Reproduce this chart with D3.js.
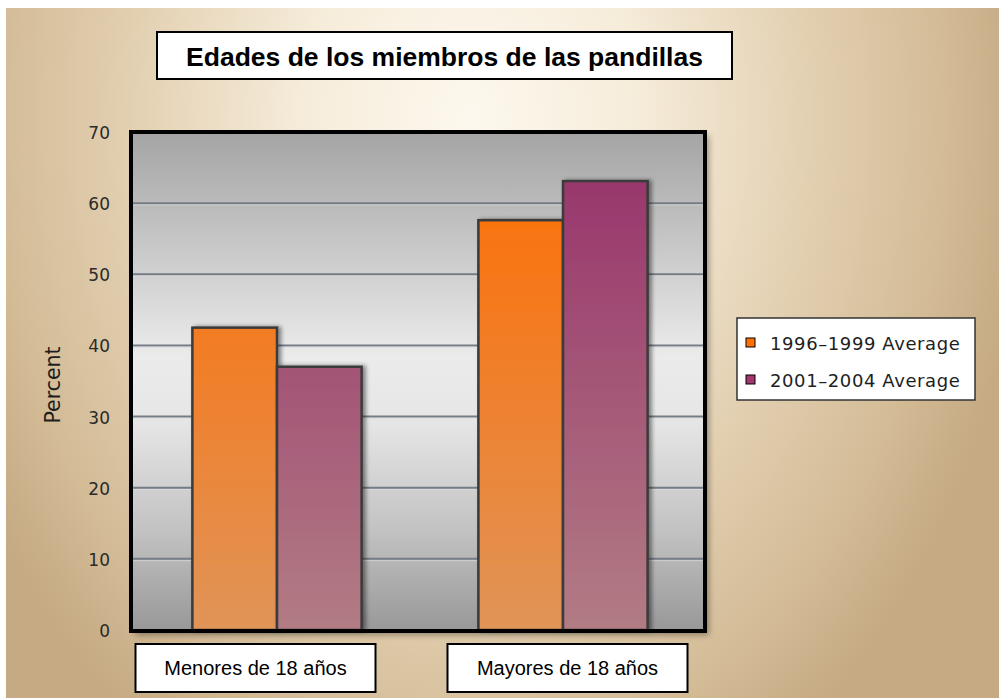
<!DOCTYPE html>
<html>
<head>
<meta charset="utf-8">
<script src="https://cdn.jsdelivr.net/npm/d3@7"></script>
<style>
  html, body { margin: 0; padding: 0; background: #ffffff; }
  svg { display: block; }
</style>
</head>
<body>
<svg id="chart" width="999" height="698"></svg>
<script>
// Chart data
const title = "Edades de los miembros de las pandillas";
const categories = ["Menores de 18 años", "Mayores de 18 años"];
const seriesNames = ["1996\u20131999 Average", "2001\u20132004 Average"];
const avg1996_1999 = [42.5, 57.6];
const avg2001_2004 = [37.0, 63.1];
const yTicks = [0, 10, 20, 30, 40, 50, 60, 70];
const yLabel = "Percent";

const svg = d3.select("#chart");
const W = 999, H = 698;
const defs = svg.append("defs");

// Warm radial background
const bg = defs.append("radialGradient")
  .attr("id", "bgGrad").attr("gradientUnits", "userSpaceOnUse")
  .attr("cx", 470).attr("cy", 120).attr("r", 560)
  .attr("gradientTransform", "translate(470,120) scale(1,1.35) translate(-470,-120)");
[[0, "#fdf8ee"], [0.3, "#f6ecda"], [0.62, "#e2cfb0"], [0.85, "#d3bb96"], [1, "#c5aa83"]]
  .forEach(([o, c]) => bg.append("stop").attr("offset", o).attr("stop-color", c));

svg.append("rect").attr("x", 6).attr("y", 8).attr("width", W - 6).attr("height", H - 8)
  .attr("fill", "url(#bgGrad)");

// Plot area geometry
const plot = { left: 131, right: 705, top: 132, bottom: 631 };

const x0 = d3.scaleBand().domain(categories).range([134, 706]).padding(0);
const x1 = d3.scaleBand().domain(seriesNames).range([0, x0.bandwidth()])
  .paddingInner(0).paddingOuter(0.69);
const y = d3.scaleLinear().domain([0, 70]).range([630, 132]);

// Plot background gradient
const pg = defs.append("linearGradient").attr("id", "plotGrad")
  .attr("x1", 0).attr("y1", 0).attr("x2", 0).attr("y2", 1);
[[0, "#a4a4a4"], [0.18, "#c0c0c0"], [0.45, "#ebebeb"], [0.58, "#e6e6e6"], [0.8, "#c2c2c2"], [1, "#989898"]]
  .forEach(([o, c]) => pg.append("stop").attr("offset", o).attr("stop-color", c));

// Bar gradients, spanning the plot height
function barGrad(id, top, bottom) {
  const g = defs.append("linearGradient").attr("id", id)
    .attr("gradientUnits", "userSpaceOnUse")
    .attr("x1", 0).attr("x2", 0).attr("y1", y(70)).attr("y2", y(0));
  g.append("stop").attr("offset", 0).attr("stop-color", top);
  g.append("stop").attr("offset", 1).attr("stop-color", bottom);
}
barGrad("orangeGrad", "#ff6c00", "#e09458");
barGrad("purpleGrad", "#96306a", "#b27c84");
const fills = ["url(#orangeGrad)", "url(#purpleGrad)"];
const legendFills = ["#ff7000", "#a3356f"];

// Shadows
const sh = defs.append("filter").attr("id", "shadow")
  .attr("x", "-10%").attr("y", "-10%").attr("width", "130%").attr("height", "130%");
sh.append("feDropShadow").attr("dx", 4).attr("dy", 4).attr("stdDeviation", 3)
  .attr("flood-color", "#000").attr("flood-opacity", 0.35);
const bsh = defs.append("filter").attr("id", "barShadow")
  .attr("x", "-20%").attr("y", "-10%").attr("width", "150%").attr("height", "130%");
bsh.append("feDropShadow").attr("dx", 3).attr("dy", 0).attr("stdDeviation", 2)
  .attr("flood-color", "#000").attr("flood-opacity", 0.45);

// Title box
svg.append("rect").attr("x", 157).attr("y", 32).attr("width", 575).attr("height", 47)
  .attr("fill", "#fff").attr("stroke", "#000").attr("stroke-width", 2);
svg.append("text").attr("x", 444.5).attr("y", 66)
  .attr("text-anchor", "middle")
  .attr("font-family", "Liberation Sans, Arial, sans-serif")
  .attr("font-weight", "bold").attr("font-size", 26.5).attr("fill", "#000")
  .text(title);

// Plot frame with background
svg.append("rect")
  .attr("x", plot.left).attr("y", plot.top)
  .attr("width", plot.right - plot.left).attr("height", plot.bottom - plot.top)
  .attr("fill", "url(#plotGrad)").attr("filter", "url(#shadow)");

// Gridlines
const grid = svg.append("g");
yTicks.filter(t => t > 0 && t < 70).forEach(t => {
  grid.append("line").attr("x1", plot.left).attr("x2", plot.right)
    .attr("y1", y(t)).attr("y2", y(t))
    .attr("stroke", "#747c86").attr("stroke-width", 2);
  grid.append("line").attr("x1", plot.left).attr("x2", plot.right)
    .attr("y1", y(t) + 1.8).attr("y2", y(t) + 1.8)
    .attr("stroke", "#dcdcdc").attr("stroke-width", 1).attr("opacity", 0.7);
});

// Bars
const series = [avg1996_1999, avg2001_2004];
const groups = svg.append("g").selectAll("g").data(categories).join("g")
  .attr("transform", d => `translate(${x0(d)},0)`);
groups.selectAll("rect")
  .data((d, i) => seriesNames.map((s, j) => ({ s, j, v: series[j][i] })))
  .join("rect")
  .attr("x", d => x1(d.s))
  .attr("y", d => y(d.v))
  .attr("width", x1.bandwidth())
  .attr("height", d => y(0) - y(d.v))
  .attr("fill", d => fills[d.j])
  .attr("stroke", "#3a3a3a").attr("stroke-width", 2.5)
  .attr("filter", "url(#barShadow)");

// Frame border on top
svg.append("rect")
  .attr("x", plot.left).attr("y", plot.top)
  .attr("width", plot.right - plot.left).attr("height", plot.bottom - plot.top)
  .attr("fill", "none").attr("stroke", "#000").attr("stroke-width", 4);

// Y axis labels
const yAxis = d3.axisLeft(y).tickValues(yTicks).tickSize(0).tickPadding(0);
const ya = svg.append("g").attr("transform", "translate(110,1)").call(yAxis);
ya.select(".domain").remove();
ya.selectAll("text")
  .attr("font-family", "DejaVu Sans, Verdana, sans-serif")
  .attr("font-size", 17).attr("fill", "#2a2a2a");

svg.append("text")
  .attr("transform", "translate(60,385) rotate(-90)")
  .attr("text-anchor", "middle")
  .attr("font-family", "DejaVu Sans, Verdana, sans-serif")
  .attr("font-size", 20.5).attr("fill", "#1e1e1e")
  .text(yLabel);

// Category label boxes
const xl = d3.scaleBand().domain(categories).range([99.5, 723.5]).padding(0);
const lbl = svg.append("g").selectAll("g").data(categories).join("g")
  .attr("transform", d => `translate(${xl(d) + xl.bandwidth() / 2},0)`);
lbl.append("rect").attr("x", -120).attr("y", 644).attr("width", 240).attr("height", 48)
  .attr("fill", "#fff").attr("stroke", "#000").attr("stroke-width", 2);
lbl.append("text").attr("x", 0).attr("y", 675).attr("text-anchor", "middle")
  .attr("font-family", "Liberation Sans, Arial, sans-serif")
  .attr("font-size", 20).attr("fill", "#000")
  .text(d => d);

// Legend
const lg = svg.append("g");
lg.append("rect").attr("x", 737).attr("y", 318).attr("width", 238).attr("height", 82)
  .attr("fill", "#fff").attr("stroke", "#333").attr("stroke-width", 1.5);
const items = lg.selectAll("g").data(seriesNames).join("g")
  .attr("transform", (d, i) => `translate(746,${343 + i * 37})`);
items.append("rect").attr("x", 0).attr("y", -5).attr("width", 9).attr("height", 9)
  .attr("fill", (d, i) => legendFills[i]).attr("stroke", "#000").attr("stroke-width", 1);
items.append("text").attr("x", 24).attr("y", 6.5)
  .attr("font-family", "DejaVu Sans, Verdana, sans-serif")
  .attr("font-size", 18).attr("letter-spacing", 0.6).attr("fill", "#1e1e1e")
  .text(d => d);
</script>
</body>
</html>
